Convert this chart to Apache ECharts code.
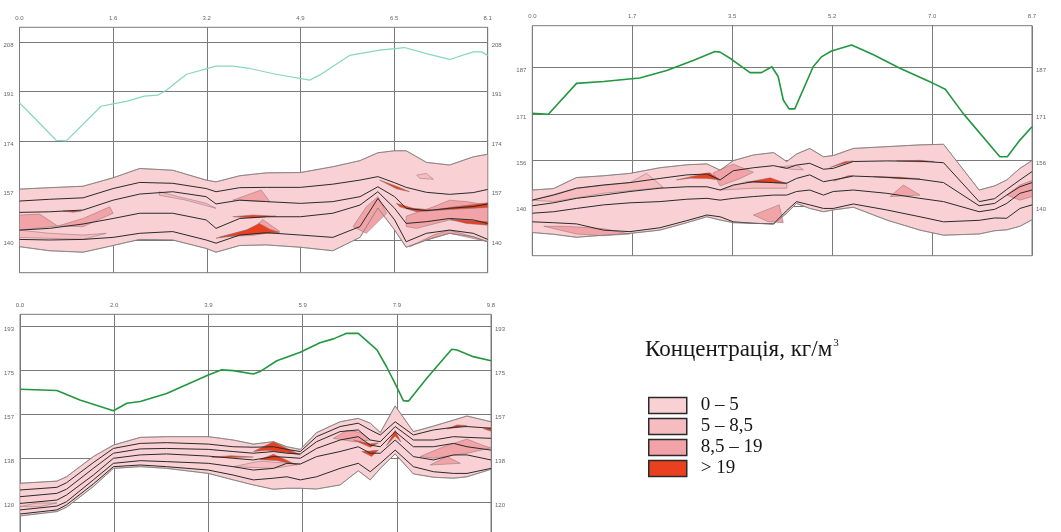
<!DOCTYPE html>
<html><head><meta charset="utf-8">
<script src="https://cdn.jsdelivr.net/npm/echarts@6/dist/echarts.min.js"></script>
<style>html,body{margin:0;padding:0;background:#fff}#c{width:1061px;height:532px}</style>
</head><body><div id="c"></div>
<script>
// ---------- Panel 1 ----------
const xTicks1 = [0, 1.62, 3.24, 4.86, 6.48, 8.1];
const yTicks1 = [140, 157, 174, 191, 208];
const groundX1 = [0, 0.635, 0.81, 1.41, 1.64, 1.85, 2.16, 2.39, 2.54, 2.89, 3.40, 3.69, 3.98, 4.44, 5.02, 5.19, 5.71, 6.23, 6.66, 7.04, 7.44, 7.85, 7.99, 8.1];
const groundY1 = [187.2, 174.3, 174.1, 186.0, 186.9, 187.7, 189.5, 189.8, 191.5, 197.0, 199.8, 199.8, 199.0, 197.0, 195.0, 196.7, 203.5, 205.3, 206.2, 204.1, 202.1, 204.7, 204.7, 203.5];
const xs1 = [0, 0.52, 1.10, 1.62, 2.08, 2.65, 3.23, 3.40, 3.81, 4.27, 4.86, 5.42, 5.89, 6.20, 6.49, 6.69, 7.04, 7.44, 7.85, 8.10];
const top1 = [157.5, 158.0, 158.5, 161.4, 164.6, 164.0, 160.6, 160.0, 162.1, 163.1, 163.2, 165.2, 167.3, 170.0, 170.7, 170.7, 166.7, 165.8, 168.6, 169.5];
const lineA1 = [153.4, 154.0, 154.5, 157.7, 159.8, 159.5, 157.7, 156.6, 158.0, 158.1, 158.1, 159.2, 160.6, 161.8, 159.7, 158.1, 156.4, 155.7, 156.3, 157.4];
const lineB1 = [149.5, 149.7, 150.3, 153.7, 155.8, 156.6, 154.9, 152.4, 153.7, 153.2, 152.6, 153.2, 154.9, 158.3, 154.9, 150.9, 150.1, 150.9, 151.5, 152.4];
const lineC1 = [143.4, 144.0, 145.5, 147.4, 149.2, 149.2, 146.9, 144.0, 147.4, 148.0, 148.0, 149.2, 152.0, 156.6, 150.9, 145.7, 146.3, 147.4, 146.9, 145.7];
const lineD1 = [140.2, 140.0, 140.2, 140.9, 142.3, 142.9, 140.0, 138.9, 141.7, 142.5, 141.7, 140.9, 144.6, 154.3, 146.9, 139.4, 142.3, 143.4, 142.3, 140.2];
const bottom1 = [137.7, 136.3, 135.8, 138.1, 140.2, 140.0, 137.1, 135.8, 138.1, 138.3, 137.5, 136.3, 140.9, 151.0, 143.4, 137.5, 140.0, 142.3, 141.1, 139.4];
const medium1 = [
  [[0,143.4],[0.52,142.3],[1.10,141.7],[1.50,142.3],[1.10,140.2],[0,140.9]],
  [[6.87,162.3],[7.04,162.9],[7.16,160.9],[6.93,161.2]],
  [[2.42,156.6],[2.65,155.4],[3.23,152.6],[3.40,150.9],[2.88,153.7],[2.42,155.4]]
];
const dark1 = [
  [[0,148.6],[0.35,148.9],[0.66,144.8],[0,143.4]],
  [[0.66,144.8],[1.10,147.4],[1.56,151.4],[1.62,149.2],[1.10,144.6]],
  [[3.69,153.7],[4.18,157.2],[4.33,153.2]],
  [[3.46,141.0],[4.04,144.0],[4.21,147.0],[4.50,143.0],[4.04,141.6]],
  [[6.69,148.2],[7.16,151.4],[7.44,153.7],[7.73,153.2],[8.10,152.0],[8.10,145.7],[7.44,146.9],[6.87,144.0],[6.69,144.6]],
  [[6.75,137.7],[7.16,141.7],[7.44,143.4],[7.85,141.1],[8.10,139.4],[7.44,142.3],[7.04,140.0]],
  [[5.77,144.6],[6.00,151.4],[6.20,154.9],[6.35,149.2],[6.00,142.3]]
];
const red1 = [
  [[3.40,140.6],[3.92,143.4],[4.15,145.7],[4.33,143.7],[4.50,142.6],[4.04,142.0],[3.69,141.4]],
  [[3.69,148.0],[4.04,148.6],[4.44,148.2],[4.04,147.6]],
  [[6.23,160.6],[6.52,158.5],[6.75,156.6],[6.52,157.6]],
  [[6.52,152.6],[6.81,150.9],[7.16,150.3],[7.44,151.2],[8.10,152.8],[8.10,151.2],[7.44,150.5],[6.87,149.7],[6.58,151.4]],
  [[7.44,147.1],[8.10,146.3],[8.10,145.1],[7.73,145.7]],
  [[0.75,150.0],[1.07,150.0],[0.93,149.5]]
];

// ---------- Panel 2 ----------
const xTicks2 = [0, 1.74, 3.48, 5.22, 6.96, 8.7];
const yTicks2 = [140.2, 155.8, 171.4, 187.0];
const groundX2 = [0, 0.28, 0.77, 1.24, 1.87, 2.34, 2.80, 3.18, 3.27, 3.47, 3.79, 3.99, 4.17, 4.28, 4.37, 4.47, 4.57, 4.89, 5.04, 5.21, 5.56, 5.94, 6.40, 6.98, 7.19, 7.50, 8.14, 8.27, 8.49, 8.7];
const groundY2 = [171.6, 171.3, 181.7, 182.3, 183.5, 186.0, 189.4, 192.4, 192.2, 189.8, 185.3, 185.3, 187.3, 184.0, 176.1, 173.1, 173.1, 187.3, 190.7, 192.6, 194.6, 191.3, 186.8, 181.7, 179.7, 171.6, 157.0, 157.0, 162.6, 167.1];
const xs2 = [0, 0.37, 0.77, 1.24, 1.70, 2.22, 2.69, 3.04, 3.27, 3.50, 3.85, 4.20, 4.43, 4.60, 4.83, 5.07, 5.24, 5.59, 6.17, 6.75, 7.16, 7.78, 8.05, 8.26, 8.49, 8.7];
const top2 = [145.8, 146.3, 150.0, 150.6, 151.4, 153.3, 154.3, 154.6, 152.5, 155.7, 157.6, 158.4, 155.4, 157.9, 159.8, 157.0, 157.4, 159.8, 160.4, 161.0, 161.2, 145.8, 147.2, 149.2, 153.1, 155.7];
const lineA2 = [142.4, 144.1, 146.4, 147.5, 148.3, 149.7, 150.9, 151.2, 149.2, 152.3, 153.3, 154.0, 153.1, 154.2, 154.8, 152.8, 153.1, 155.4, 155.6, 155.5, 155.0, 141.9, 142.9, 146.0, 149.2, 152.0];
const lineB2 = [140.5, 141.5, 143.0, 144.1, 145.3, 146.4, 146.9, 146.9, 145.8, 147.5, 148.6, 148.3, 148.1, 149.7, 150.9, 148.6, 149.2, 150.5, 150.1, 149.4, 148.3, 140.5, 141.3, 144.1, 146.9, 148.3];
const lineC2 = [138.0, 138.5, 139.6, 140.8, 141.5, 141.9, 142.7, 143.0, 142.4, 143.0, 143.6, 144.1, 144.1, 145.3, 145.8, 144.1, 145.3, 145.8, 144.7, 143.0, 141.9, 138.5, 139.3, 141.3, 144.7, 145.8];
const lineD2 = [135.1, 134.8, 134.4, 132.3, 131.8, 133.1, 135.5, 137.4, 136.8, 135.1, 134.6, 134.4, 138.9, 141.9, 140.8, 139.6, 139.6, 141.1, 139.1, 136.8, 135.1, 135.6, 136.4, 136.3, 139.6, 140.8];
const bottom2 = [131.5, 130.9, 129.9, 130.6, 131.2, 132.3, 134.8, 136.8, 135.7, 134.8, 134.6, 134.4, 138.0, 141.3, 139.6, 138.5, 139.1, 140.0, 135.7, 132.3, 130.6, 131.0, 132.1, 132.4, 133.6, 135.8];
const medium2 = [
  [[0.0,142.4],[0.77,146.4],[1.70,148.3],[1.99,151.4],[2.28,146.7],[1.24,144.7],[0.37,141.9]],
  [[4.31,153.6],[4.6,154.2],[4.72,152.6],[4.5,152.8]],
  [[3.27,145.8],[3.73,148.6],[4.43,148.1],[4.43,146.4],[3.85,146.4]]
];
const dark2 = [
  [[0.2,133.6],[0.77,131.0],[1.24,130.4],[1.70,131.0],[1.24,132.8],[0.6,133.6]],
  [[3.15,151.6],[3.50,154.5],[3.85,151.8],[3.60,149.5],[3.27,147.2]],
  [[3.85,137.4],[4.30,140.8],[4.37,134.8],[4.10,135.2]],
  [[6.23,143.6],[6.46,147.5],[6.75,144.1]],
  [[8.26,144.1],[8.49,147.5],[8.7,149.0],[8.7,143.6],[8.49,142.4]]
];
const red2 = [
  [[2.51,149.2],[3.01,151.4],[3.09,151.6],[3.27,149.2],[3.04,149.7],[2.75,149.8]],
  [[3.73,148.4],[4.14,149.9],[4.43,148.0],[4.14,148.4]],
  [[5.18,153.4],[5.45,155.4],[5.59,155.6],[5.45,154.8]],
  [[6.34,155.6],[6.75,155.8],[7.0,155.4],[6.75,155.3]],
  [[5.24,148.8],[5.50,150.6],[5.59,150.7],[5.45,150.0]],
  [[5.94,150.3],[6.4,150.1],[6.75,149.6],[6.4,149.6]]
];

// ---------- Panel 3 ----------
const xTicks3 = [0, 1.966, 3.932, 5.898, 7.864, 9.83];
const yTicks3 = [120, 138.25, 156.5, 174.75, 193];
const groundX3 = [0, 0.77, 1.25, 1.95, 2.23, 2.51, 3.06, 3.93, 4.21, 4.45, 4.87, 5.01, 5.36, 5.85, 6.26, 6.54, 6.82, 7.06, 7.45, 7.65, 7.86, 8.00, 8.11, 8.49, 9.01, 9.12, 9.46, 9.83];
const groundY3 = [166.9, 166.4, 162.5, 158.0, 161.1, 161.8, 165.2, 172.9, 175.0, 174.7, 173.3, 174.3, 178.8, 182.3, 186.3, 187.9, 190.2, 190.2, 183.3, 176.3, 168.0, 162.2, 162.0, 171.5, 183.6, 183.3, 180.5, 178.8];
const xs3 = [0, 0.77, 0.97, 1.53, 1.95, 2.51, 3.06, 3.93, 4.45, 4.87, 5.29, 5.57, 5.85, 6.19, 6.68, 7.06, 7.31, 7.52, 7.83, 8.21, 8.63, 9.05, 9.33, 9.83];
const top3 = [127.8, 128.7, 130.5, 138.9, 143.7, 146.9, 147.2, 147.2, 145.8, 144.1, 145.1, 143.0, 141.9, 148.9, 153.4, 154.8, 152.8, 148.9, 160.0, 149.3, 151.6, 154.1, 155.8, 153.4];
const lineA3 = [125.0, 126.1, 128.0, 136.4, 142.3, 144.4, 144.7, 144.1, 143.0, 142.8, 143.0, 141.9, 141.0, 147.2, 151.4, 152.8, 150.0, 147.9, 153.4, 147.9, 150.0, 151.1, 151.4, 150.7];
const lineB3 = [122.2, 123.6, 125.3, 134.0, 140.3, 142.1, 142.3, 141.9, 141.0, 140.3, 141.0, 140.3, 140.0, 145.1, 149.3, 150.0, 145.8, 145.1, 151.4, 145.8, 145.8, 147.2, 146.9, 146.5];
const lineC3 = [119.4, 120.8, 122.9, 131.2, 138.2, 139.6, 140.0, 139.1, 138.2, 137.5, 138.9, 138.6, 138.2, 142.3, 145.8, 147.2, 143.7, 143.0, 149.3, 143.0, 143.0, 144.4, 143.0, 141.6];
const lineD3 = [116.7, 118.3, 120.1, 129.2, 136.1, 137.2, 136.8, 136.1, 134.7, 133.3, 134.0, 136.1, 135.8, 138.9, 141.0, 143.0, 140.3, 140.3, 145.8, 138.9, 137.5, 139.6, 139.6, 137.5];
const lineE3 = [115.0, 116.7, 118.8, 127.5, 134.7, 135.4, 134.7, 133.3, 131.2, 129.2, 129.9, 130.5, 129.2, 130.5, 134.0, 136.1, 132.6, 136.1, 141.6, 134.7, 132.6, 131.9, 131.9, 134.0];
const bottom3 = [114.2, 116.0, 117.8, 126.4, 134.0, 134.7, 134.0, 131.9, 129.2, 127.1, 125.3, 125.7, 125.7, 125.4, 127.1, 133.0, 129.2, 134.0, 140.0, 131.7, 130.3, 129.9, 130.5, 133.6];
const medium3 = [
  [[0,118.1],[0.35,119.6],[0.77,119.6],[0.4,118.0]],
  [[4.45,134.7],[5.0,137.0],[5.85,135.8],[5.3,134.0]]
];
const dark3 = [
  [[6.54,146.5],[6.82,149.8],[7.1,149.0],[7.31,145.8],[7.0,145.0]],
  [[8.35,138.9],[8.84,143.0],[9.33,146.2],[9.67,143.5],[9.83,142.5],[9.33,140.3],[8.63,138.2]],
  [[8.56,135.4],[8.91,138.9],[9.19,136.1]]
];
const red3 = [
  [[4.87,141.0],[5.29,145.1],[5.85,139.6],[5.57,140.5],[5.15,141.5]],
  [[5.01,137.6],[5.29,139.9],[5.78,135.4],[5.36,137.3]],
  [[4.0,138.6],[4.4,139.3],[4.87,138.7],[4.4,138.5]],
  [[6.96,145.8],[7.31,144.2],[7.48,144.6],[7.31,142.8]],
  [[7.13,141.0],[7.34,138.9],[7.48,141.6],[7.3,141.2]],
  [[7.65,143.5],[7.83,149.8],[7.95,145.0],[7.83,147.5]],
  [[8.91,150.4],[9.12,152.1],[9.33,151.8],[9.12,151.0]],
  [[9.67,150.5],[9.83,150.9],[9.83,149.5]]
];

const legendNames = ['0 – 5', '5 – 8,5', '8,5 – 19', '> 19'];
const legendColors = ['#f9d1d4', '#f6bcc0', '#f2a3a7', '#e9411f'];

// ---------- Build ----------
const panels = [
  {xT: xTicks1, yT: yTicks1, xMax: 8.1, yMin: 128.75, yMax: 213.16, box: {left: 19.5, top: 27.3, width: 468.2, height: 245.4},
   gx: groundX1, gy: groundY1, gColor: '#86d8bb', gW: 1.2, xs: xs1, top: top1, bot: bottom1,
   lines: [lineA1, lineB1, lineC1, lineD1], med: medium1, dark: dark1, red: red1},
  {xT: xTicks2, yT: yTicks2, xMax: 8.7, yMin: 123.7, yMax: 201.1, box: {left: 532.3, top: 25.7, width: 499.7, height: 230},
   gx: groundX2, gy: groundY2, gColor: '#22973f', gW: 1.6, xs: xs2, top: top2, bot: bottom2,
   lines: [lineA2, lineB2, lineC2, lineD2], med: medium2, dark: dark2, red: red2},
  {xT: xTicks3, yT: yTicks3, xMax: 9.83, yMin: 104.18, yMax: 198.13, box: {left: 20, top: 314.3, width: 471, height: 225.7},
   gx: groundX3, gy: groundY3, gColor: '#22973f', gW: 1.6, xs: xs3, top: top3, bot: bottom3,
   lines: [lineA3, lineB3, lineC3, lineD3, lineE3], med: medium3, dark: dark3, red: red3}
];

const grids = [], xAxes = [], yAxes = [], series = [];
const labelStyle = {fontSize: 6, color: '#666', fontFamily: 'Liberation Sans'};
const gridLine = {show: true, lineStyle: {color: '#7a7a7a', width: 1}};

function polySeries(name, gi, polys, color) {
  return {
    type: 'custom', name, xAxisIndex: gi, yAxisIndex: gi * 2, clip: true, silent: true,
    itemStyle: {color},
    data: polys.map((p, i) => [p[0][0], p[0][1], i]),
    renderItem: (params, api) => ({
      type: 'polygon',
      shape: {points: polys[params.dataIndex].map(pt => api.coord(pt))},
      style: {fill: color, stroke: '#8c6c6e', lineWidth: 0.5}
    })
  };
}
function lineSeries(gi, xs, ys, color, width) {
  return {
    type: 'line', xAxisIndex: gi, yAxisIndex: gi * 2, silent: true, symbol: 'none',
    data: xs.map((x, i) => [x, ys[i]]), lineStyle: {color, width}
  };
}

panels.forEach((p, gi) => {
  grids.push(Object.assign({show: true, borderColor: '#7a7a7a', borderWidth: 1, containLabel: false, outerBoundsMode: 'none'}, p.box));
  xAxes.push({
    gridIndex: gi, type: 'value', position: 'top', min: 0, max: p.xMax,
    axisLine: {show: false}, axisTick: {show: false, customValues: p.xT},
    axisLabel: Object.assign({customValues: p.xT, margin: 6, formatter: v => Number(v).toFixed(1)}, labelStyle),
    splitLine: gridLine
  });
  const yBase = {
    gridIndex: gi, type: 'value', min: p.yMin, max: p.yMax,
    axisLine: {show: false}, axisTick: {show: false, customValues: p.yT}
  };
  yAxes.push(Object.assign({}, yBase, {position: 'left',
    axisLabel: Object.assign({customValues: p.yT, margin: 6, verticalAlign: 'top', formatter: v => String(Math.round(v))}, labelStyle),
    splitLine: gridLine}));
  yAxes.push(Object.assign({}, yBase, {position: 'right',
    axisLabel: Object.assign({customValues: p.yT, margin: 4, verticalAlign: 'top', formatter: v => String(Math.round(v))}, labelStyle),
    splitLine: {show: false}}));

  const env = p.xs.map((x, i) => [x, p.top[i]]).concat(p.xs.map((x, i) => [x, p.bot[i]]).reverse());
  series.push(polySeries(legendNames[0], gi, [env], legendColors[0]));
  series.push(polySeries(legendNames[1], gi, p.med, legendColors[1]));
  series.push(polySeries(legendNames[2], gi, p.dark, legendColors[2]));
  series.push(polySeries(legendNames[3], gi, p.red, legendColors[3]));
  p.lines.forEach(l => series.push(lineSeries(gi, p.xs, l, '#2a2a2a', 1)));
  series.push(lineSeries(gi, p.xs, p.top, '#7c7c7c', 0.8));
  series.push(lineSeries(gi, p.xs, p.bot, '#7c7c7c', 0.8));
  series.push(lineSeries(gi, p.gx, p.gy, p.gColor, p.gW));
});

const chart = echarts.init(document.getElementById('c'));
chart.setOption({
  animation: false,
  backgroundColor: '#ffffff',
  title: {
    text: 'Концентрація, кг/м{s|3}', left: 640, top: 333,
    textStyle: {fontFamily: 'Liberation Serif', fontSize: 23, fontWeight: 'normal', color: '#161616',
      rich: {s: {fontFamily: 'Liberation Serif', fontSize: 11, color: '#161616', verticalAlign: 'top', padding: [0, 0, 0, 1]}}}
  },
  legend: {
    data: legendNames, orient: 'vertical', left: 643, top: 391, selectedMode: false,
    icon: 'rect', itemWidth: 38, itemHeight: 16, itemGap: 2,
    itemStyle: {borderColor: '#2a2a2a', borderWidth: 1.5},
    textStyle: {fontFamily: 'Liberation Serif', fontSize: 19, color: '#161616', lineHeight: 18, padding: [0, 0, 0, 9]}
  },
  grid: grids, xAxis: xAxes, yAxis: yAxes, series
});
</script></body></html>
